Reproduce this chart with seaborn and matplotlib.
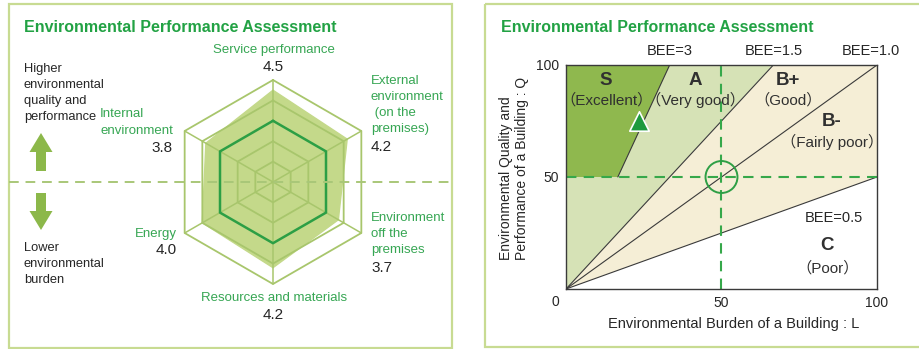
import numpy as np
import pandas as pd
import matplotlib
matplotlib.use("Agg")
import matplotlib.pyplot as plt
import seaborn as sns
from matplotlib.patches import Rectangle, Polygon

# ---------------- data ----------------
radar_categories = ["Service performance",
                    "External\nenvironment\n (on the\npremises)",
                    "Environment\noff the\npremises",
                    "Resources and materials",
                    "Energy",
                    "Internal\nenvironment"]
radar_scores = [4.5, 4.2, 3.7, 4.2, 4.0, 3.8]
radar_levels = [1, 2, 3, 4, 5]
highlight_level = 3

bee_values = [3.0, 1.5, 1.0, 0.5]
bee_labels = ["BEE=3", "BEE=1.5", "BEE=1.0", "BEE=0.5"]
rank_names = ["S", "A", "B+", "B-", "C"]
rank_desc = ["Excellent", "Very good", "Good", "Fairly poor", "Poor"]
axis_ticks = [0, 50, 100]
building_L = [23.5]
building_Q = [75.0]
reference_L = [50.0]
reference_Q = [50.0]

title = "Environmental Performance Assessment"
higher_text = "Higher\nenvironmental\nquality and\nperformance"
lower_text = "Lower\nenvironmental\nburden"
x_label = "Environmental Burden of a Building : L"
y_label = "Environmental Quality and\nPerformance of a Building : Q"

# ---------------- style ----------------
sns.set_theme(style="white")
FONT = ["Liberation Sans", "Noto Sans CJK JP", "DejaVu Sans"]
plt.rcParams["font.family"] = FONT

GREEN_TITLE = "#22a244"
GREEN_TEXT = "#36a653"
TXT = "#262626"
S_COL = "#8fb84e"
A_COL = "#d6e2b6"
B_COL = "#f5eed6"
RADAR_FILL = "#c4d98a"
GRID = "#a8c66c"
LEVEL3 = "#2c9f45"
ARROW = "#8cb84a"
BORDER = "#c8db92"
DASH_L = "#a9c778"
DASH_R = "#36a84a"

W, H = 920, 349
fig = plt.figure(figsize=(W / 100, H / 100), dpi=100)
fig.patch.set_facecolor("white")


def px_axes(x0, y0, x1, y1, z=1):
    ax = fig.add_axes([x0 / W, 1 - y1 / H, (x1 - x0) / W, (y1 - y0) / H], zorder=z)
    ax.patch.set_alpha(0)
    return ax


# ---------- overlay (pixel coords), drawn on top ----------
bg = px_axes(0, 0, W, H, z=5)
bg.set_xlim(0, W)
bg.set_ylim(H, 0)
bg.axis("off")

bg.add_patch(Rectangle((9, 4), 443, 344, fill=False, ec=BORDER, lw=1.6))
bg.add_patch(Rectangle((485, 4), 460, 343, fill=False, ec=BORDER, lw=1.6, clip_on=False))

bg.text(24, 28, title, color=GREEN_TITLE, fontsize=11.5, fontweight="bold", ha="left", va="center")
bg.text(501, 27, title, color=GREEN_TITLE, fontsize=11.5, fontweight="bold", ha="left", va="center")

bg.text(24, 93, higher_text, color=TXT, fontsize=9.3, ha="left", va="center", linespacing=1.45)
bg.text(24, 264, lower_text, color=TXT, fontsize=9.3, ha="left", va="center", linespacing=1.45)

bg.plot([9, 452], [182, 182], color=DASH_L, lw=1.4, dashes=(5, 3.5))
bg.arrow(41, 171, 0, -38, width=10, head_width=23, head_length=19,
         length_includes_head=True, color=ARROW, lw=0)
bg.arrow(41, 193, 0, 37, width=10, head_width=23, head_length=19,
         length_includes_head=True, color=ARROW, lw=0)

# radar labels (pixel anchors)
label_pos = [(274, 50, "center"), (371, 105, "left"), (371, 234, "left"),
             (274, 298, "center"), (177, 234, "right"), (173, 122.5, "right")]
value_pos = [(273, 67, "center"), (371, 147, "left"), (371, 268, "left"),
             (273, 315, "center"), (177, 250, "right"), (173, 148, "right")]
for cat, sc, (lx, ly, lha), (vx, vy, vha) in zip(radar_categories, radar_scores, label_pos, value_pos):
    bg.text(lx, ly, cat, color=GREEN_TEXT, fontsize=9.5, ha=lha, va="center",
            linespacing=1.45, multialignment="left" if lha != "center" else "center")
    bg.text(vx, vy, f"{sc:.1f}", color=TXT, fontsize=11, ha=vha, va="center")

# ---------- radar chart ----------
cx, cy, u = 273, 182, 20.4
rad = px_axes(cx - 6 * u, cy - 6 * u, cx + 6 * u, cy + 6 * u, z=2)
rad.set_xlim(-6, 6)
rad.set_ylim(-6, 6)
rad.axis("off")
n = len(radar_scores)
ang = np.arange(n) * 2 * np.pi / n


def hexpts(rs):
    rs = np.asarray(rs, dtype=float)
    return np.column_stack([rs * np.sin(ang), rs * np.cos(ang)])


outer = hexpts([max(radar_levels)] * n)
rad.add_patch(Polygon(hexpts(radar_scores), closed=True, fc=RADAR_FILL, ec=RADAR_FILL,
                      lw=1.0, zorder=2))
for lv in radar_levels:
    p = hexpts([lv] * n)
    p = np.vstack([p, p[:1]])
    if lv == highlight_level:
        rad.plot(p[:, 0], p[:, 1], color=LEVEL3, lw=1.8, zorder=4)
    else:
        rad.plot(p[:, 0], p[:, 1], color=GRID, lw=1.3, zorder=3)
for (vx, vy) in outer:
    rad.plot([0, vx], [0, vy], color=GRID, lw=1.1, zorder=3)

# ---------- BEE chart ----------
ax = px_axes(566, 65, 877, 289, z=2)
ax.set_xlim(0, 100)
ax.set_ylim(0, 100)
ax.margins(0)
ax.patch.set_alpha(1)
ax.patch.set_facecolor("white")

top = axis_ticks[-1]
mid = axis_ticks[1]
b_hi, b_a, b_1, b_lo = bee_values
# B region (between BEE=1.5 and BEE=0.5)
ax.fill([0, top / b_a, top, top], [0, top, top, top * b_lo], color=B_COL, lw=0, zorder=1)
# A region (BEE >= 1.5)
ax.fill([0, 0, top / b_a], [0, top, top], color=A_COL, lw=0, zorder=2)
# S region (BEE >= 3 and Q >= 50)
ax.fill([0, 0, top / b_hi, mid / b_hi], [mid, top, top, mid], color=S_COL, lw=0, zorder=3)

line_kw = dict(color="#3a3a3a", lw=0.8, zorder=4)
ax.plot([mid / b_hi, top / b_hi], [mid, top], **line_kw)
for b in bee_values[1:]:
    if b >= 1:
        ax.plot([0, top / b], [0, top], **line_kw)
    else:
        ax.plot([0, top], [0, top * b], **line_kw)

ax.axhline(mid, color=DASH_R, lw=1.5, dashes=(5, 3.5), zorder=5)
ax.axvline(mid, color=DASH_R, lw=1.5, dashes=(5, 3.5), zorder=5)

pts = pd.DataFrame({"L": reference_L, "Q": reference_Q})
sns.scatterplot(data=pts, x="L", y="Q", ax=ax, marker="o", s=23 ** 2, facecolor="none",
                edgecolor="#2e9f45", linewidth=1.4, zorder=6, legend=False)
bld = pd.DataFrame({"L": building_L, "Q": building_Q})
sns.scatterplot(data=bld, x="L", y="Q", ax=ax, marker="^", s=14 ** 2, color="#1e9a3e",
                edgecolor="white", linewidth=1.2, zorder=7, legend=False)

# BEE labels
for b, lab in zip(bee_values, bee_labels):
    if b >= 1:
        ax.text(min(top / b, 98), 106.3, lab, fontsize=10.5, color=TXT, ha="center", va="center",
                clip_on=False)
    else:
        ax.text(86, 31.7, lab, fontsize=10.5, color=TXT, ha="center", va="center")

rank_pos = [(12.9, 93.3, 84.4), (41.5, 93.3, 84.4), (71.4, 93.3, 84.4),
            (85.5, 74.6, 65.6), (84.0, 19.2, 9.4)]
for nm, ds, (x, y1, y2) in zip(rank_names, rank_desc, rank_pos):
    ax.text(x, y1, nm, fontsize=13.5, fontweight="bold", color="#303030", ha="center",
            va="center", zorder=8)
    ax.text(x, y2, f"（{ds}）", fontsize=11, color="#303030", ha="center", va="center",
            zorder=8, family=FONT)

ax.set_xticks(axis_ticks[1:])
ax.set_yticks(axis_ticks[1:])
ax.set_xticklabels([str(t) for t in axis_ticks[1:]])
ax.set_yticklabels([str(t) for t in axis_ticks[1:]])
ax.tick_params(axis="both", length=0, pad=5, labelsize=10, labelcolor=TXT)
ax.text(-3.5, -5.8, str(axis_ticks[0]), fontsize=10, color=TXT, ha="center", va="center",
        clip_on=False)
for s in ax.spines.values():
    s.set_color("#3a3a3a")
    s.set_linewidth(1.0)
    s.set_zorder(9)

ax.set_xlabel(x_label, fontsize=10.5, color=TXT)
ax.xaxis.set_label_coords(0.54, -0.156)
ax.xaxis.label.set_va("center")
ax.set_ylabel(y_label, fontsize=10, color=TXT, multialignment="left", linespacing=1.25)
ax.yaxis.set_label_coords(-0.167, 0.54)
ax.yaxis.label.set_va("center")

fig.savefig("out.png", dpi=100, facecolor="white")
